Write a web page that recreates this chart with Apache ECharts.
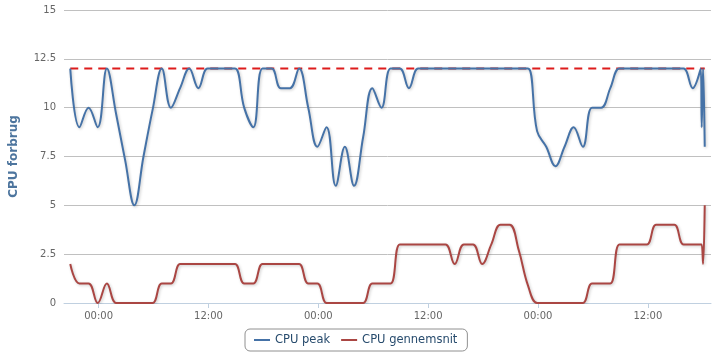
<!DOCTYPE html>
<html>
<head>
<meta charset="utf-8">
<script src="https://cdn.jsdelivr.net/npm/echarts@6/dist/echarts.min.js"></script>
<style>
html,body{margin:0;padding:0;background:#fff;}
#chart{width:728px;height:363px;}
</style>
</head>
<body>
<div id="chart"></div>
<script>
// Sample times
const times = [
  '2015-05-31 20:54','2015-05-31 21:54','2015-05-31 22:54','2015-05-31 23:54',
  '2015-06-01 00:54','2015-06-01 01:54','2015-06-01 02:54','2015-06-01 03:54','2015-06-01 04:54','2015-06-01 05:54',
  '2015-06-01 06:54','2015-06-01 07:54','2015-06-01 08:54','2015-06-01 09:54','2015-06-01 10:54','2015-06-01 11:54',
  '2015-06-01 12:54','2015-06-01 13:54','2015-06-01 14:54','2015-06-01 15:54','2015-06-01 16:54','2015-06-01 17:54',
  '2015-06-01 18:54','2015-06-01 19:54','2015-06-01 20:54','2015-06-01 21:54','2015-06-01 22:54','2015-06-01 23:54',
  '2015-06-02 00:54','2015-06-02 01:54','2015-06-02 02:54','2015-06-02 03:54','2015-06-02 04:54','2015-06-02 05:54',
  '2015-06-02 06:54','2015-06-02 07:54','2015-06-02 08:54','2015-06-02 09:54','2015-06-02 10:54','2015-06-02 11:54',
  '2015-06-02 12:54','2015-06-02 13:54','2015-06-02 14:54','2015-06-02 15:54','2015-06-02 16:54','2015-06-02 17:54',
  '2015-06-02 18:54','2015-06-02 19:54','2015-06-02 20:54','2015-06-02 21:54','2015-06-02 22:54','2015-06-02 23:54',
  '2015-06-03 00:54','2015-06-03 01:54','2015-06-03 02:54','2015-06-03 03:54','2015-06-03 04:54','2015-06-03 05:54',
  '2015-06-03 06:54','2015-06-03 07:54','2015-06-03 08:54','2015-06-03 09:54','2015-06-03 10:54','2015-06-03 11:54',
  '2015-06-03 12:54','2015-06-03 13:54','2015-06-03 14:54','2015-06-03 15:54','2015-06-03 16:54',
  '2015-06-03 17:47','2015-06-03 17:53','2015-06-03 18:02','2015-06-03 18:13'
];
const cpuPeak = [
  12, 9, 10, 9,
  12, 9.7, 7.3, 5, 7.5, 9.9,
  12, 10, 11, 12, 11, 12,
  12, 12, 12, 10, 9, 12,
  12, 11, 11, 12, 10, 8,
  9, 6, 8, 6, 8.5, 11,
  10, 12, 12, 11, 12, 12,
  12, 12, 12, 12, 12, 12,
  12, 12, 12, 12, 12, 8.8,
  8, 7, 8, 9, 8, 10,
  10, 11, 12, 12, 12, 12,
  12, 12, 12, 12, 11,
  12, 9, 12, 8
];
const cpuAvg = [
  2, 1, 1, 0,
  1, 0, 0, 0, 0, 0,
  1, 1, 2, 2, 2, 2,
  2, 2, 2, 1, 1, 2,
  2, 2, 2, 2, 1, 1,
  0, 0, 0, 0, 0, 1,
  1, 1, 3, 3, 3, 3,
  3, 3, 2, 3, 3, 2,
  3, 4, 4, 2.7, 0.9, 0,
  0, 0, 0, 0, 0, 1,
  1, 1, 3, 3, 3, 3,
  4, 4, 4, 3, 3,
  3, 3, 2, 5
];
const limitValue = 12;
const seriesNames = ['CPU peak', 'CPU gennemsnit'];
const yTicks = [0, 2.5, 5, 7.5, 10, 12.5, 15];
const xTickHours = [0, 12, 24, 36, 48, 60];
const xTickLabels = ['00:00', '12:00', '00:00', '12:00', '00:00', '12:00'];
const baseTime = '2015-06-01 00:00';
const axisStart = '2015-05-31 20:13';
const axisEnd = '2015-06-03 18:54';

function toHours(s) {
  const p = t => { const [d, h] = t.split(' '); const [Y, M, D] = d.split('-').map(Number); const [hh, mm] = h.split(':').map(Number); return Date.UTC(Y, M - 1, D, hh, mm); };
  return (p(s) - p(baseTime)) / 3600000;
}
const xs = times.map(toHours);
const peakData = xs.map((x, i) => [x, cpuPeak[i]]);
const avgData = xs.map((x, i) => [x, cpuAvg[i]]);
const limitData = [[xs[0], limitValue], [xs[xs.length - 1], limitValue]];

const chart = echarts.init(document.getElementById('chart'), null, {renderer: 'canvas'});
const FONT = 'DejaVu Sans';
const shadow = {shadowColor: 'rgba(0,0,0,0.22)', shadowBlur: 3, shadowOffsetX: 1, shadowOffsetY: 1};
chart.setOption({
  animation: false,
  backgroundColor: '#ffffff',
  grid: {left: 63, right: 17, top: 10, bottom: 60},
  legend: {
    data: seriesNames,
    left: 245, top: 329,
    padding: [5, 10, 5, 9],
    borderColor: '#909090', borderWidth: 1, borderRadius: 5,
    icon: 'rect', itemWidth: 16, itemHeight: 2, itemGap: 11,
    textStyle: {fontFamily: FONT, fontSize: 11.5, color: '#274b6d', padding: [0, 0, 0, 0]}
  },
  xAxis: {
    type: 'value',
    min: toHours(axisStart), max: toHours(axisEnd),
    splitLine: {show: false},
    axisLine: {show: true, lineStyle: {color: '#C0D0E0', width: 1}},
    axisTick: {show: true, customValues: xTickHours, length: 5, lineStyle: {color: '#C0D0E0'}},
    axisLabel: {
      customValues: xTickHours,
      formatter: v => xTickLabels[xTickHours.indexOf(v)] || '',
      fontFamily: FONT, fontSize: 10, color: '#666666', margin: 8
    }
  },
  yAxis: {
    type: 'value', min: 0, max: 15, interval: 2.5,
    name: 'CPU forbrug', nameLocation: 'middle', nameGap: 44,
    nameTextStyle: {fontFamily: FONT, fontSize: 12, fontWeight: 'bold', color: '#4d759e'},
    axisLine: {show: false}, axisTick: {show: false},
    axisLabel: {fontFamily: FONT, fontSize: 10, color: '#666666', margin: 8,
      formatter: v => String(yTicks.find(t => Math.abs(t - v) < 1e-6) ?? v)},
    splitLine: {lineStyle: {color: '#C0C0C0', width: 1}}
  },
  series: [
    {
      name: 'limit', type: 'line', data: limitData, symbol: 'none', silent: true, z: 1,
      lineStyle: {color: '#dd1c1c', width: 2, type: [8, 6]}
    },
    {
      name: seriesNames[0], type: 'line', data: peakData, symbol: 'none', smooth: 0.4, z: 3,
      color: '#4572A7',
      lineStyle: Object.assign({color: '#4572A7', width: 2}, shadow)
    },
    {
      name: seriesNames[1], type: 'line', data: avgData, symbol: 'none', smooth: 0.4, z: 3,
      color: '#AA4643',
      lineStyle: Object.assign({color: '#AA4643', width: 2}, shadow)
    }
  ]
});
</script>
</body>
</html>
